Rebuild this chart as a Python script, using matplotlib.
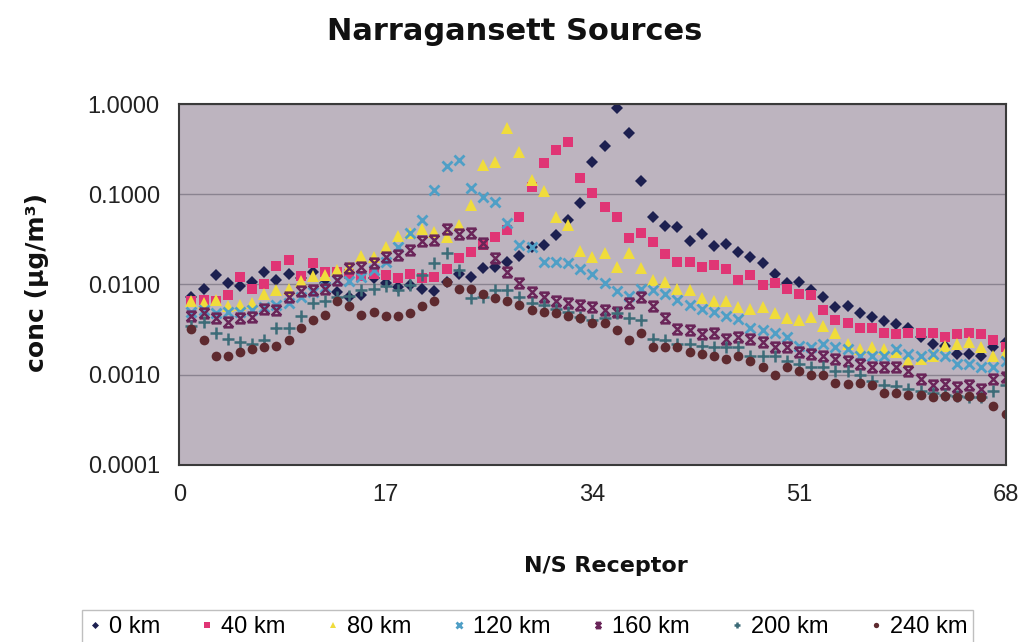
import numpy as np
import matplotlib.pyplot as plt
from matplotlib.path import Path
from matplotlib.ticker import FixedLocator, FixedFormatter, NullLocator

plt.rcParams['font.family'] = ['Liberation Sans', 'DejaVu Sans']

receptor = list(range(1, 69))

# concentrations (ug/m3) at each N/S receptor, one list per source offset
km0 = [0.0072, 0.0090, 0.0126, 0.0103, 0.0095, 0.0105, 0.0136, 0.0111, 0.0132, 0.0117,
       0.0136, 0.0103, 0.0082, 0.0072, 0.0076, 0.0117, 0.0103, 0.0093, 0.0098, 0.0088,
       0.0084, 0.0105, 0.0129, 0.0120, 0.0151, 0.0155, 0.0176, 0.0205, 0.0258, 0.0271,
       0.0350, 0.0514, 0.0794, 0.227, 0.341, 0.903, 0.476, 0.139, 0.0555, 0.0441,
       0.0430, 0.0301, 0.0359, 0.0264, 0.0278, 0.0227, 0.0200, 0.0171, 0.0132, 0.0103,
       0.0105, 0.0086, 0.0072, 0.0056, 0.0057, 0.0048, 0.0043, 0.0039, 0.0036, 0.0033,
       0.0026, 0.0022, 0.0021, 0.0017, 0.0017, 0.0016, 0.0020, 0.0023]
km40 = [0.0066, 0.0068, 0.0066, 0.0077, 0.0120, 0.0088, 0.0100, 0.0158, 0.0185, 0.0123,
        0.0171, 0.0139, 0.0136, 0.0129, 0.0123, 0.0129, 0.0126, 0.0117, 0.0132, 0.0117,
        0.0120, 0.0147, 0.0195, 0.0227, 0.0271, 0.0333, 0.0398, 0.0555, 0.120, 0.221,
        0.308, 0.378, 0.151, 0.103, 0.0717, 0.0555, 0.0324, 0.0369, 0.0293, 0.0216,
        0.0176, 0.0176, 0.0155, 0.0163, 0.0147, 0.0111, 0.0126, 0.0098, 0.0103, 0.0088,
        0.0079, 0.0076, 0.0052, 0.0040, 0.0037, 0.0033, 0.0033, 0.0029, 0.0028, 0.0029,
        0.0029, 0.0029, 0.0026, 0.0028, 0.0029, 0.0028, 0.0024, 0.0020]
km80 = [0.0065, 0.0062, 0.0068, 0.0057, 0.0059, 0.0063, 0.0079, 0.0086, 0.0090, 0.0108,
        0.0123, 0.0126, 0.0143, 0.0155, 0.0205, 0.0200, 0.0258, 0.0341, 0.0369, 0.0408,
        0.0378, 0.0333, 0.0453, 0.0755, 0.210, 0.227, 0.541, 0.293, 0.143, 0.108,
        0.0555, 0.0453, 0.0233, 0.0200, 0.0221, 0.0155, 0.0221, 0.0151, 0.0111, 0.0105,
        0.0088, 0.0086, 0.0070, 0.0066, 0.0065, 0.0056, 0.0054, 0.0056, 0.0048, 0.0042,
        0.0040, 0.0043, 0.0035, 0.0029, 0.0022, 0.0019, 0.0020, 0.0019, 0.0018, 0.0014,
        0.0015, 0.0016, 0.0021, 0.0022, 0.0023, 0.0020, 0.0016, 0.0018]
km120 = [0.0049, 0.0052, 0.0048, 0.0050, 0.0049, 0.0052, 0.0056, 0.0059, 0.0062, 0.0072,
         0.0082, 0.0093, 0.0111, 0.0108, 0.0120, 0.0143, 0.0176, 0.0258, 0.0369, 0.0514,
         0.111, 0.205, 0.239, 0.117, 0.0926, 0.0815, 0.0476, 0.0271, 0.0258, 0.0176,
         0.0176, 0.0171, 0.0147, 0.0132, 0.0103, 0.0084, 0.0074, 0.0090, 0.0086, 0.0079,
         0.0068, 0.0059, 0.0053, 0.0049, 0.0045, 0.0041, 0.0033, 0.0031, 0.0029, 0.0026,
         0.0021, 0.0020, 0.0022, 0.0020, 0.0019, 0.0016, 0.0016, 0.0016, 0.0019, 0.0017,
         0.0016, 0.0017, 0.0016, 0.0013, 0.0013, 0.0012, 0.0012, 0.0014]
km160 = [0.0045, 0.0048, 0.0042, 0.0038, 0.0042, 0.0043, 0.0054, 0.0052, 0.0072, 0.0084,
         0.0086, 0.0090, 0.0111, 0.0151, 0.0155, 0.0171, 0.0200, 0.0210, 0.0239, 0.0301,
         0.0308, 0.0408, 0.0359, 0.0369, 0.0285, 0.0195, 0.0136, 0.0103, 0.0082, 0.0072,
         0.0066, 0.0063, 0.0059, 0.0056, 0.0052, 0.0049, 0.0062, 0.0072, 0.0057, 0.0042,
         0.0032, 0.0031, 0.0028, 0.0029, 0.0025, 0.0026, 0.0025, 0.0023, 0.0020, 0.0020,
         0.0018, 0.0017, 0.0016, 0.0015, 0.0014, 0.0013, 0.0012, 0.0012, 0.0012, 0.0011,
         0.00090, 0.00076, 0.00079, 0.00072, 0.00076, 0.00070, 0.00090, 0.00095]
km200 = [0.0035, 0.0038, 0.0029, 0.0025, 0.0023, 0.0022, 0.0024, 0.0033, 0.0033, 0.0045,
         0.0063, 0.0066, 0.0072, 0.0074, 0.0086, 0.0090, 0.0095, 0.0086, 0.0098, 0.0126,
         0.0171, 0.0221, 0.0143, 0.0070, 0.0072, 0.0086, 0.0086, 0.0072, 0.0063, 0.0059,
         0.0054, 0.0049, 0.0044, 0.0040, 0.0042, 0.0048, 0.0042, 0.0040, 0.0025, 0.0024,
         0.0022, 0.0022, 0.0021, 0.0020, 0.0020, 0.0020, 0.0016, 0.0016, 0.0016, 0.0014,
         0.0013, 0.0012, 0.0012, 0.0011, 0.0011, 0.00098, 0.00086, 0.00076, 0.00074, 0.00070,
         0.00066, 0.00062, 0.00060, 0.00058, 0.00057, 0.00057, 0.00066, 0.00076]
km240 = [0.0032, 0.0024, 0.0016, 0.0016, 0.0018, 0.0019, 0.0020, 0.0021, 0.0024, 0.0033,
         0.0040, 0.0046, 0.0065, 0.0057, 0.0046, 0.0050, 0.0045, 0.0045, 0.0048, 0.0057,
         0.0066, 0.0105, 0.0090, 0.0090, 0.0079, 0.0070, 0.0066, 0.0059, 0.0052, 0.0049,
         0.0048, 0.0045, 0.0042, 0.0037, 0.0037, 0.0031, 0.0024, 0.0029, 0.0020, 0.0020,
         0.0020, 0.0018, 0.0017, 0.0016, 0.0015, 0.0016, 0.0014, 0.0012, 0.0010, 0.0012,
         0.0011, 0.0010, 0.00098, 0.00081, 0.00079, 0.00081, 0.00076, 0.00063, 0.00062, 0.00060,
         0.00060, 0.00056, 0.00058, 0.00057, 0.00058, 0.00056, 0.00045, 0.00037]

labels = ['0 km', '40 km', '80 km', '120 km', '160 km', '200 km', '240 km']
series = [km0, km40, km80, km120, km160, km200, km240]

ytick_vals = [0.0001, 0.001, 0.01, 0.1, 1.0]
ytick_text = ['0.0001', '0.0010', '0.0100', '0.1000', '1.0000']
xtick_vals = [0, 17, 34, 51, 68]

# x with bars top and bottom, like the old spreadsheet "star" marker
star = Path([(-1, -1), (1, 1), (-1, 1), (1, -1), (-1, 1), (1, 1), (-1, -1), (1, -1)],
            [Path.MOVETO, Path.LINETO] * 4)

styles = [
    dict(marker='D', color='#1d2050', ms=6.5, mew=0),
    dict(marker='s', color='#e03575', ms=7.0, mew=0),
    dict(marker='^', color='#f0dc3c', ms=8.5, mew=0),
    dict(marker='x', color='#4f9fc6', ms=7.0, mew=2.0),
    dict(marker=star, color='#6a2559', ms=7.0, mew=1.8),
    dict(marker='+', color='#3d6c78', ms=8.0, mew=1.8),
    dict(marker='o', color='#5e2a2f', ms=7.0, mew=0),
]

fig = plt.figure(figsize=(10.24, 6.42), dpi=100)
ax = fig.add_axes([0.175, 0.276, 0.807, 0.562])
ax.set_facecolor('#bdb4bf')

handles = []
for vals, lab, st in zip(series, labels, styles):
    h, = ax.plot(receptor, vals, linestyle='none', marker=st['marker'],
                 color=st['color'], markersize=st['ms'], markeredgewidth=st['mew'],
                 label=lab)
    handles.append(h)

ax.set_yscale('log')
ax.set_ylim(0.0001, 1.0)
ax.set_xlim(0, 68)
ax.yaxis.set_major_locator(FixedLocator(ytick_vals))
ax.yaxis.set_major_formatter(FixedFormatter(ytick_text))
ax.yaxis.set_minor_locator(NullLocator())
ax.set_xticks(xtick_vals)
ax.tick_params(axis='both', labelsize=17, length=0, colors='#222222')
ax.tick_params(axis='y', pad=14)
ax.tick_params(axis='x', pad=14)

ax.yaxis.grid(True, color='#8a8390', linewidth=1.0)
ax.set_axisbelow(True)
for sp in ax.spines.values():
    sp.set_color('#3a3a3a')
    sp.set_linewidth(1.5)

bold = dict(family='DejaVu Sans', fontweight='bold', color='#111111')
fig.text(0.503, 1 - 31 / 642, 'Narragansett Sources', ha='center', va='center',
         fontsize=22, **bold)
fig.text(0.592, 1 - 566 / 642, 'N/S Receptor', ha='center', va='center',
         fontsize=16, **bold)
fig.text(0.036, 1 - 283 / 642, 'conc (µg/m³)', ha='center', va='center', rotation=90,
         fontsize=18, **bold)

fig.legend(handles, labels, loc='upper center', bbox_to_anchor=(0.515, 1 - 610 / 642),
           borderaxespad=0, ncol=7, frameon=True, fancybox=False, edgecolor='#b0b0b0',
           fontsize=17, handlelength=0.6, handletextpad=0.3, columnspacing=1.7,
           borderpad=0.25, markerscale=0.55)

fig.savefig('out.png', dpi=100, facecolor='white')
